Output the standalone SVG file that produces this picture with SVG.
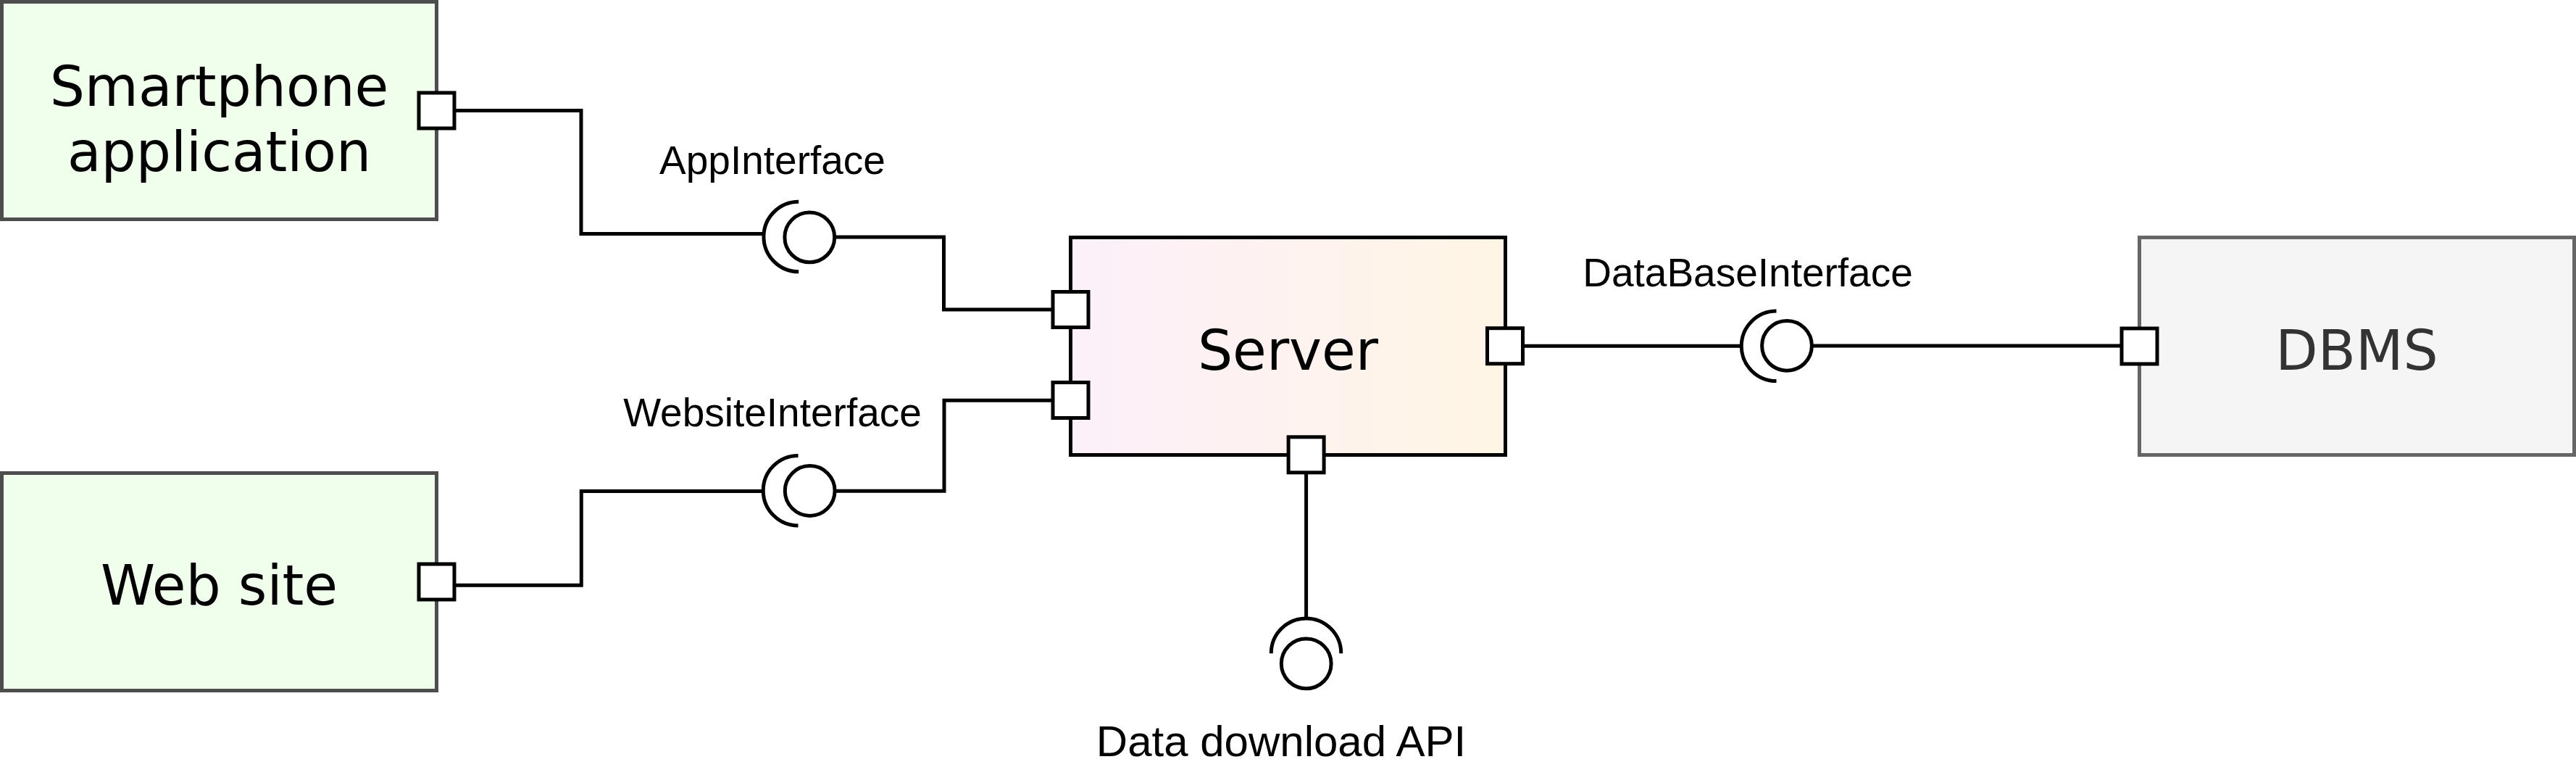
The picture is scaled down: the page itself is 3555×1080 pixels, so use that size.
<svg xmlns="http://www.w3.org/2000/svg" width="3555" height="1080" viewBox="0 0 3555 1080">
  <defs>
    <linearGradient id="serverGrad" x1="0" y1="0" x2="1" y2="0">
      <stop offset="0" stop-color="#FCF0FA"/>
      <stop offset="1" stop-color="#FFF5E4"/>
    </linearGradient>
    <style>
      .green { fill: #EFFFEC; stroke: #4D4D4D; stroke-width: 5; }
      .server { fill: url(#serverGrad); stroke: #000000; stroke-width: 5; }
      .grey { fill: #F5F5F5; stroke: #666666; stroke-width: 5; }
      .port { fill: #FFFFFF; stroke: #000000; stroke-width: 5; }
      .wire { fill: none; stroke: #000000; stroke-width: 5; }
      .ball { fill: #FFFFFF; stroke: #000000; stroke-width: 5; }
      .socket { fill: none; stroke: #000000; stroke-width: 5; }
      .big { font-family: "DejaVu Sans", sans-serif; font-size: 76px; text-anchor: middle; fill: #000000; }
      .lbl { font-family: "Liberation Sans", Arial, sans-serif; font-size: 55px; text-anchor: middle; fill: #000000; }
    </style>
  </defs>

  <g id="connectors">
    <path class="wire" d="M 627 152.5 H 802 V 322.5 H 1054"/>
    <path class="wire" d="M 1151.5 327 H 1302.5 V 427 H 1453"/>
    <path class="wire" d="M 627 807.3 H 802.3 V 677.5 H 1053"/>
    <path class="wire" d="M 1152 677.3 H 1303 V 552.3 H 1453"/>
    <path class="wire" d="M 2101.5 477.2 H 2403.5"/>
    <path class="wire" d="M 2500.5 477 H 2928"/>
    <path class="wire" d="M 1802.6 651.8 V 853"/>
  </g>

  <g id="smartphone">
    <rect class="green" x="2.5" y="2.5" width="600" height="300"/>
    <text class="big" x="302.5" y="146">Smartphone</text>
    <text class="big" x="302.5" y="236">application</text>
    <rect class="port" x="578" y="128" width="49" height="49"/>
  </g>

  <g id="website">
    <rect class="green" x="2.5" y="652.5" width="600" height="300"/>
    <text class="big" x="302.5" y="834">Web site</text>
    <rect class="port" x="578" y="778" width="49" height="49"/>
  </g>

  <g id="server">
    <rect class="server" x="1477.5" y="327.5" width="600" height="300"/>
    <text class="big" x="1777.5" y="510">Server</text>
    <rect class="port" x="1453" y="402.5" width="49" height="49"/>
    <rect class="port" x="1453" y="527.5" width="49" height="49"/>
    <rect class="port" x="2052.5" y="452.7" width="49" height="49"/>
    <rect class="port" x="1778.1" y="602.8" width="49" height="49"/>
  </g>

  <g id="dbms">
    <rect class="grey" x="2952.5" y="327.5" width="600" height="300"/>
    <text class="big" x="3252.5" y="510" style="fill:#333333">DBMS</text>
    <rect class="port" x="2928" y="453" width="49" height="49"/>
  </g>

  <g id="appinterface">
    <path class="socket" d="M 1102.2 278.25 A 48.25 48.25 0 0 0 1102.2 374.75"/>
    <circle class="ball" cx="1117.3" cy="327.3" r="34.4"/>
    <text class="lbl" x="1066" y="240">AppInterface</text>
  </g>

  <g id="websiteinterface">
    <path class="socket" d="M 1101.5 628.45 A 48.25 48.25 0 0 0 1101.5 724.95"/>
    <circle class="ball" cx="1117.7" cy="677" r="34.4"/>
    <text class="lbl" x="1066" y="588">WebsiteInterface</text>
  </g>

  <g id="databaseinterface">
    <path class="socket" d="M 2451.5 429.05 A 48.25 48.25 0 0 0 2451.5 525.55"/>
    <circle class="ball" cx="2466" cy="476.8" r="34.4"/>
    <text class="lbl" x="2412" y="395">DataBaseInterface</text>
  </g>

  <g id="datadownloadapi">
    <path class="socket" d="M 1754.25 901.2 A 48.25 48.25 0 0 1 1850.75 901.2"/>
    <circle class="ball" cx="1802.7" cy="915.3" r="34.4"/>
    <text class="lbl" x="1768" y="1043" style="font-size:60px">Data download API</text>
  </g>
</svg>
